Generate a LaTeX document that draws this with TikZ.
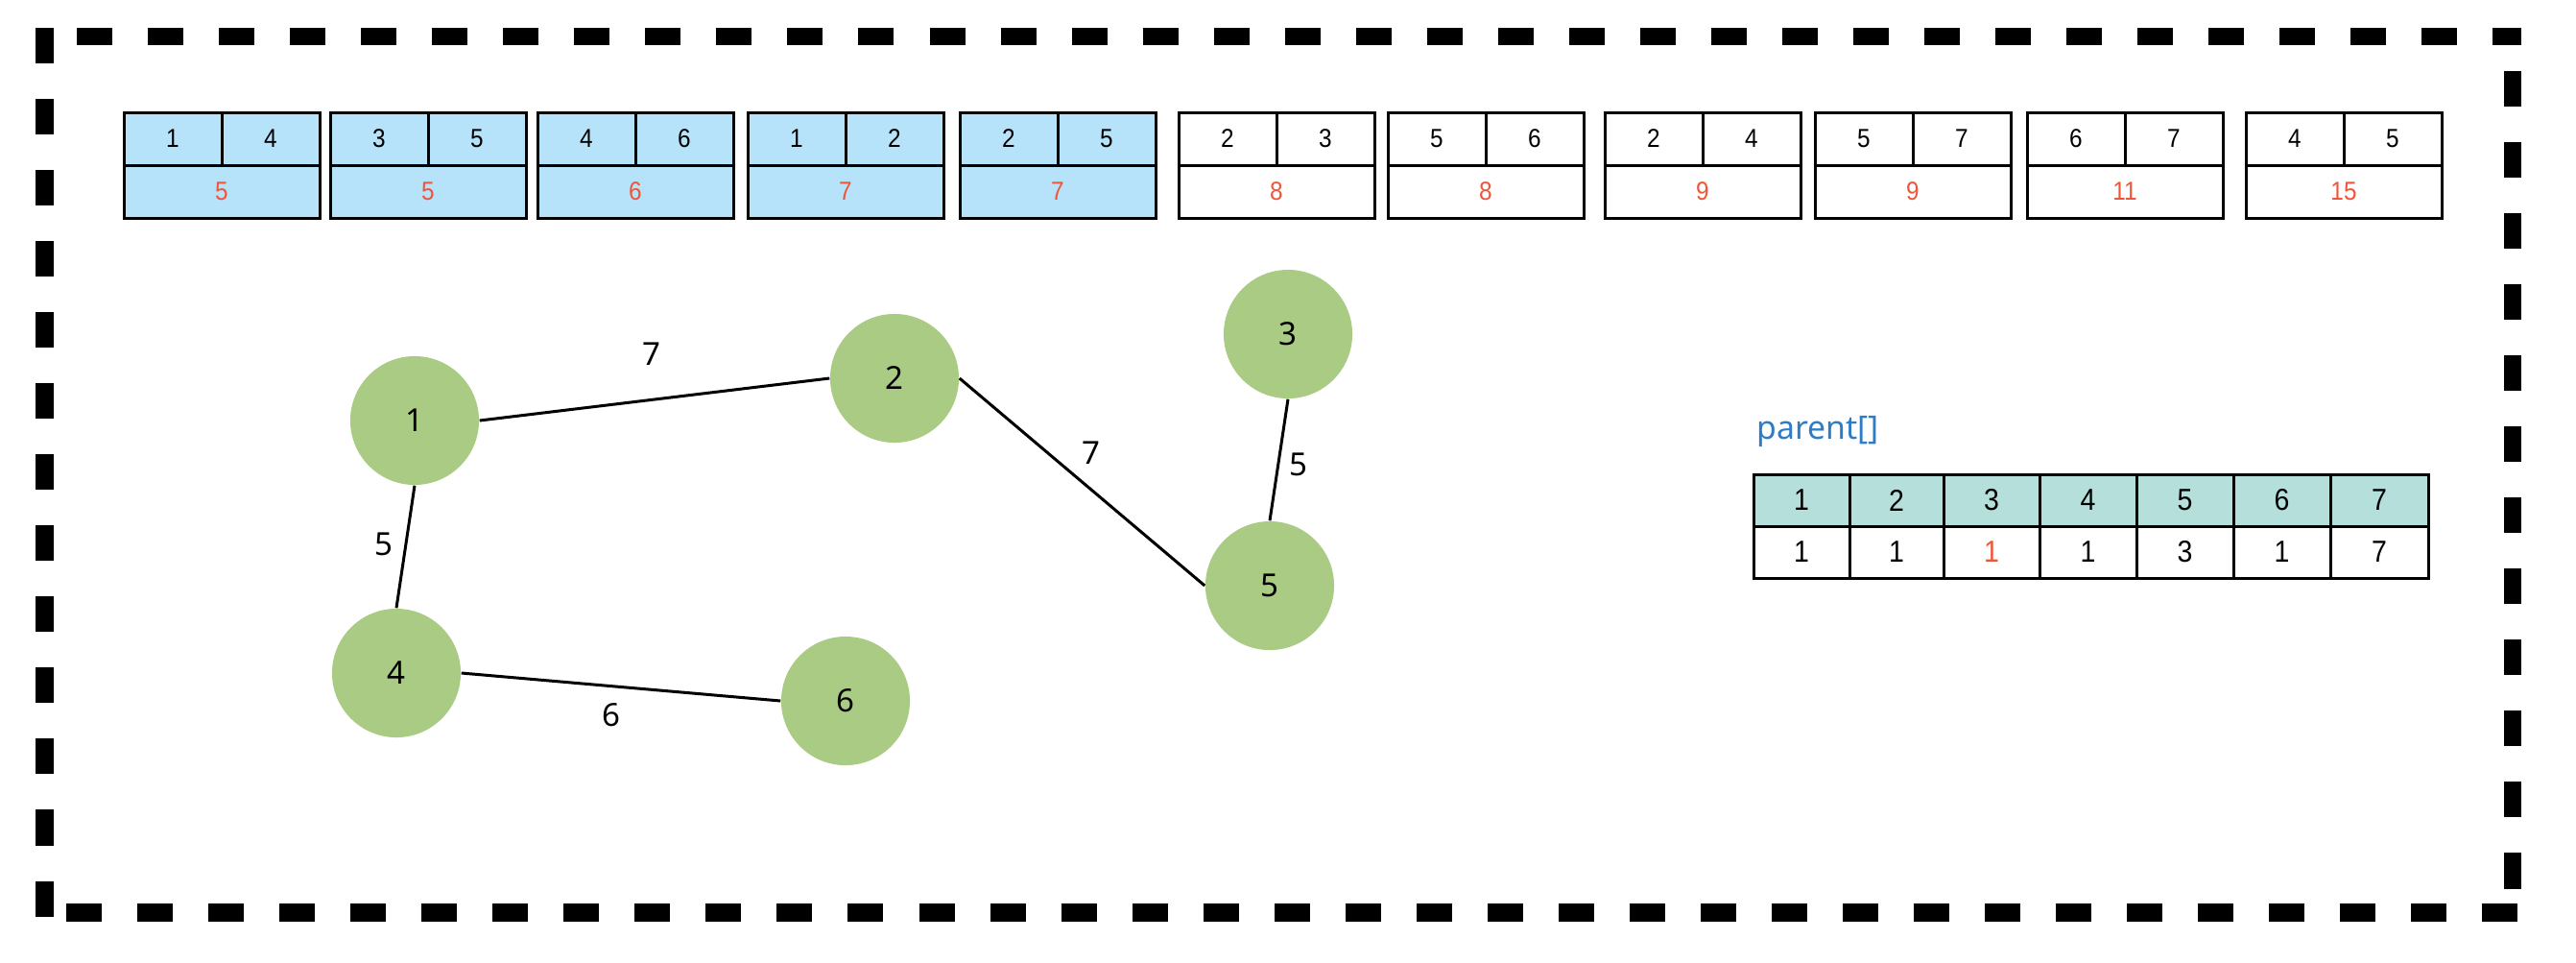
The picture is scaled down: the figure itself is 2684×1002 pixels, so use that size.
\documentclass[tikz,border=0pt]{standalone}
\usepackage{fontspec}
\setmainfont{Noto Sans}
\newfontfamily\narrowfont[FakeStretch=0.9]{Liberation Sans}
\definecolor{boxblue}{HTML}{B7E3FA}
\definecolor{pheader}{HTML}{B5DFDB}
\definecolor{nodegreen}{HTML}{AACB83}
\definecolor{numred}{HTML}{F0553A}
\definecolor{pblue}{HTML}{2E7CC6}
\begin{document}
\begin{tikzpicture}[x=0.01cm,y=-0.01cm,
  borderline/.style={line width=0.185cm, dash pattern=on 0.37cm off 0.37cm},
  boxline/.style={line width=0.03cm},
  boxtxt/.style={font=\narrowfont\fontsize{7.7}{8}\selectfont, inner sep=0pt},
  wtxt/.style={boxtxt, text=numred},
  vertex/.style={circle, fill=nodegreen, minimum size=1.34cm, inner sep=0pt, font=\fontsize{9.4}{11}\selectfont},
  edgeline/.style={line width=0.03cm},
  elabel/.style={font=\fontsize{9.4}{11}\selectfont, inner sep=0pt},
  ptxt/.style={font=\narrowfont\fontsize{9}{10}\selectfont, inner sep=0pt}]
\useasboundingbox (0,0) rectangle (2684,1002);

% dashed frame
\draw[borderline] (46.5,29) -- (46.5,960);
\draw[borderline] (80,38) -- (2627,38);
\draw[borderline] (2618,74) -- (2618,960);
\draw[borderline] (69,950.5) -- (2625,950.5);

% sorted edge boxes
\foreach \x/\a/\b/\w/\f [count=\i] in {129/1/4/5/boxblue, 344/3/5/5/boxblue, 560/4/6/6/boxblue, 779/1/2/7/boxblue, 1000/2/5/7/boxblue, 1228/2/3/8/white, 1446/5/6/8/white, 1672/2/4/9/white, 1891/5/7/9/white, 2112/6/7/11/white, 2340/4/5/15/white}{
  \fill[\f] (\x,117) rectangle ++(204,110);
  \draw[boxline] (\x,117) rectangle ++(204,110);
  \draw[boxline] (\x,172) -- ++(204,0);
  \draw[boxline] (\x+102,117) -- ++(0,55);
  \node[boxtxt] (e\i-a) at (\x+51,144.5) {\a};
  \node[boxtxt] (e\i-b) at (\x+153,144.5) {\b};
  \node[wtxt] (e\i-w) at (\x+102,199.5) {\w};
}

% graph
\node[vertex] (n1) at (432,438) {1};
\node[vertex] (n2) at (932,394) {2};
\node[vertex] (n3) at (1342,348) {3};
\node[vertex] (n4) at (413,701) {4};
\node[vertex] (n5) at (1323,610) {5};
\node[vertex] (n6) at (881,730) {6};

\draw[edgeline] (n1.east) -- (n2.west);
\draw[edgeline] (n1.south) -- (n4.north);
\draw[edgeline] (n4.east) -- (n6.west);
\draw[edgeline] (n2.east) -- (n5.west);
\draw[edgeline] (n3.south) -- (n5.north);

\node[elabel] (l12) at (679,369) {7};
\node[elabel] (l14) at (400,567) {5};
\node[elabel] (l46) at (637,745) {6};
\node[elabel] (l25) at (1137,472) {7};
\node[elabel] (l35) at (1353,484) {5};

% parent array
\node[anchor=base west, inner sep=0pt, text=pblue, font=\fontsize{9.6}{11}\selectfont] (ptitle) at (1830,457) {parent[]};
\fill[pheader] (1827,494) rectangle (2530,548);
\draw[boxline] (1827,494) rectangle (2530,602);
\draw[boxline] (1827,548) -- (2530,548);
\foreach \c in {1927,2025,2125,2226,2327,2428}{
  \draw[boxline] (\c,494) -- (\c,602);
}
\foreach \l/\r/\h/\v/\col [count=\i] in {1827/1927/1/1/black, 1927/2025/2/1/black, 2025/2125/3/1/numred, 2125/2226/4/1/black, 2226/2327/5/3/black, 2327/2428/6/1/black, 2428/2530/7/7/black}{
  \node[ptxt] (ph\i) at ({(\l+\r)/2},521) {\h};
  \node[ptxt, text=\col] (pv\i) at ({(\l+\r)/2},575) {\v};
}
\end{tikzpicture}
\end{document}
